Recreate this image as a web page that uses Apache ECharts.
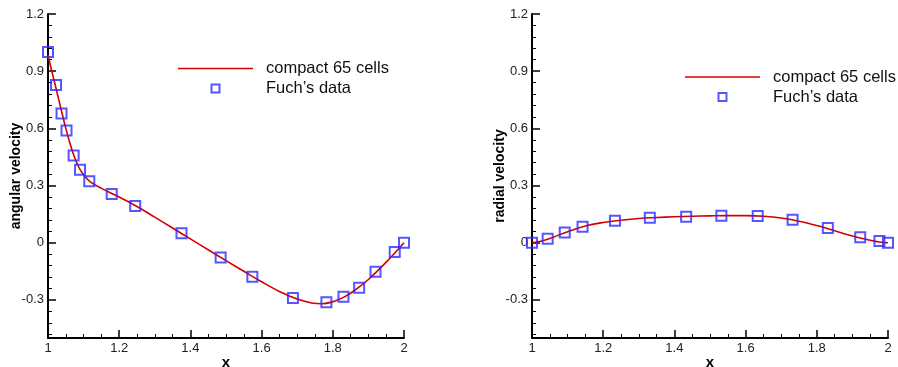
<!DOCTYPE html>
<html><head><meta charset="utf-8">
<script src="https://cdn.jsdelivr.net/npm/echarts@6/dist/echarts.min.js"></script>
<style>html,body{margin:0;padding:0;background:#fff}#c{width:898px;height:367px}</style>
</head><body><div id="c"></div>
<script>
// ---- data ----
const angCurveX = [1.00,1.01,1.02,1.03,1.04,1.05,1.06,1.07,1.08,1.09,1.10,1.12,1.15,1.20,1.25,1.30,1.35,1.40,1.45,1.50,1.55,1.60,1.65,1.70,1.74,1.77,1.80,1.83,1.86,1.90,1.95,2.00];
const angCurveY = [0.985,0.905,0.830,0.752,0.675,0.600,0.532,0.472,0.422,0.384,0.356,0.318,0.285,0.240,0.190,0.134,0.077,0.020,-0.037,-0.094,-0.150,-0.205,-0.256,-0.296,-0.316,-0.320,-0.310,-0.287,-0.252,-0.193,-0.102,0.000];
const angFuchX = [1.000,1.0225,1.038,1.052,1.072,1.090,1.116,1.179,1.245,1.375,1.485,1.574,1.688,1.782,1.830,1.874,1.920,1.974,2.000];
const angFuchY = [1.000,0.828,0.678,0.589,0.458,0.383,0.323,0.255,0.192,0.049,-0.077,-0.178,-0.290,-0.313,-0.283,-0.236,-0.152,-0.049,0.000];

const radCurveX = [1.00,1.025,1.05,1.10,1.15,1.20,1.25,1.30,1.35,1.40,1.45,1.50,1.55,1.60,1.65,1.70,1.75,1.80,1.85,1.90,1.95,1.975,2.00];
const radCurveY = [0.000,0.008,0.022,0.058,0.088,0.106,0.118,0.127,0.132,0.136,0.139,0.141,0.142,0.142,0.139,0.130,0.113,0.090,0.063,0.035,0.013,0.004,0.000];
const radFuchX = [1.000,1.044,1.092,1.142,1.233,1.331,1.433,1.532,1.634,1.732,1.831,1.922,1.976,2.000];
const radFuchY = [0.000,0.021,0.054,0.084,0.115,0.131,0.136,0.141,0.140,0.120,0.077,0.028,0.009,0.000];

const yMajorTicks = [-0.3,0,0.3,0.6,0.9,1.2];
const yMinorTicks = [-0.48,-0.42,-0.36,-0.24,-0.18,-0.12,-0.06,0.06,0.12,0.18,0.24,0.36,0.42,0.48,0.54,0.66,0.72,0.78,0.84,0.96,1.02,1.08,1.14];
const xTitle = 'x';
const yTitles = ['angular velocity','radial velocity'];
const names = ['compact 65 cells', 'Fuch\u2019s data'];

const zip = (a,b) => a.map((v,i)=>[v,b[i]]);

// ---- styles ----
const FONT = '"Liberation Sans", Arial, sans-serif';
const RED = '#d40000', BLUE = '#2c2cff';
const gridL = [48, 532];

const grids = gridL.map(l => ({left:l, top:14, width:356, height:324, outerBoundsMode:'none', containLabel:false}));

const xAxes = [0,1].map(i => ({
  type:'value', gridIndex:i, min:1, max:2, interval:0.2,
  name:xTitle, nameLocation:'middle', nameGap:17, nameMoveOverlap:false,
  nameTextStyle:{fontFamily:FONT,fontSize:15,fontWeight:'bold',color:'#000'},
  axisLine:{show:true,onZero:false,lineStyle:{color:'#000',width:2}},
  axisTick:{show:true,inside:true,length:8,lineStyle:{color:'#000',width:1.5}},
  minorTick:{show:true,splitNumber:4,length:4,lineStyle:{color:'#000',width:1}},
  axisLabel:{fontFamily:FONT,fontSize:13,color:'#222',margin:4,
    formatter:v=>String(+v.toFixed(1))},
  splitLine:{show:false}, minorSplitLine:{show:false}
}));

const yAxes = [];
[0,1].forEach(i => {
  yAxes.push({
    type:'value', gridIndex:i, min:-0.5, max:1.2,
    name:yTitles[i], nameLocation:'middle', nameGap:25, nameMoveOverlap:false,
    nameTextStyle:{fontFamily:FONT,fontSize:14,fontWeight:'bold',color:'#000'},
    axisLine:{show:true,onZero:false,lineStyle:{color:'#000',width:2}},
    axisTick:{show:true,inside:true,length:8,customValues:yMajorTicks,lineStyle:{color:'#000',width:1.5}},
    axisLabel:{fontFamily:FONT,fontSize:13,color:'#222',margin:4,customValues:yMajorTicks,
      formatter:v=>String(+v.toFixed(1))},
    splitLine:{show:false}
  });
  yAxes.push({
    type:'value', gridIndex:i, min:-0.5, max:1.2, position:'left',
    axisLine:{show:false},
    axisTick:{show:true,inside:true,length:4,customValues:yMinorTicks,lineStyle:{color:'#000',width:1}},
    axisLabel:{show:false},
    splitLine:{show:false}
  });
});

const lineStyle = {color:RED,width:1.6};
const markerStyle = {color:'rgba(0,0,0,0)',borderColor:BLUE,borderWidth:2};

const series = [
  {type:'line',name:names[0],xAxisIndex:0,yAxisIndex:0,data:zip(angCurveX,angCurveY),
   smooth:0.4,symbol:'none',lineStyle:lineStyle,itemStyle:{color:RED},z:2},
  {type:'scatter',name:names[1],xAxisIndex:0,yAxisIndex:0,data:zip(angFuchX,angFuchY),
   symbol:'rect',symbolSize:10,itemStyle:markerStyle,z:3},
  {type:'line',name:names[0],xAxisIndex:1,yAxisIndex:2,data:zip(radCurveX,radCurveY),
   smooth:0.4,symbol:'none',lineStyle:lineStyle,itemStyle:{color:RED},z:2},
  {type:'scatter',name:names[1],xAxisIndex:1,yAxisIndex:2,data:zip(radFuchX,radFuchY),
   symbol:'rect',symbolSize:10,itemStyle:markerStyle,z:3}
];

const legendData = [
  {name:names[0], icon:'path://M0 0H75V1.6H0Z', itemStyle:{color:RED,borderWidth:0}},
  {name:names[1], icon:'path://M0 0H10V10H0Z', itemStyle:{color:'rgba(0,0,0,0)',borderColor:BLUE,borderWidth:2}}
];
const legendPos = [{left:178, top:58.5}, {left:685, top:67}];
const legends = legendPos.map(p => ({
  orient:'vertical', left:p.left, top:p.top, padding:0, itemGap:0,
  itemWidth:75, itemHeight:8, selectedMode:false,
  data:legendData,
  textStyle:{fontFamily:FONT,fontSize:16.5,color:'#111',lineHeight:20,padding:[0,0,0,8]}
}));

const chart = echarts.init(document.getElementById('c'), null, {renderer:'canvas'});
chart.setOption({
  animation:false, backgroundColor:'#fff',
  grid:grids, xAxis:xAxes, yAxis:yAxes, legend:legends, series:series
});
</script></body></html>
